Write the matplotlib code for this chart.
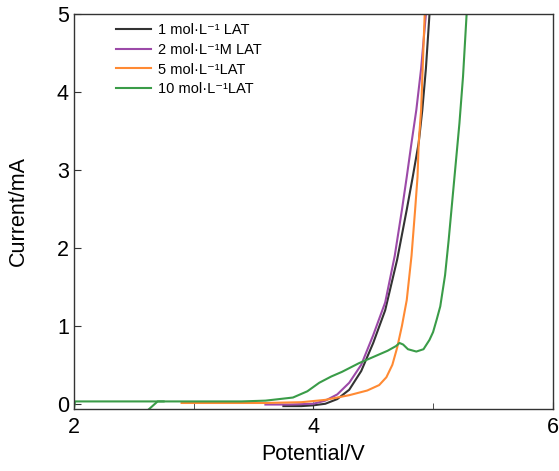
import matplotlib
matplotlib.use("Agg")
import matplotlib.pyplot as plt
from matplotlib.ticker import MultipleLocator

plt.rcParams['font.family'] = ['Liberation Sans', 'DejaVu Sans']

# 1 mol/L
x_1m = [3.75, 3.9, 4.0, 4.1, 4.2, 4.3, 4.4, 4.5, 4.6, 4.7, 4.78, 4.83, 4.88, 4.91, 4.94, 4.97]
y_1m = [-0.03, -0.03, -0.02, 0.0, 0.06, 0.18, 0.42, 0.78, 1.2, 1.85, 2.49, 2.91, 3.35, 3.77, 4.3, 5.0]

# 2 mol/L
x_2m = [3.6, 3.8, 4.0, 4.1, 4.2, 4.3, 4.4, 4.5, 4.6, 4.68, 4.74, 4.78, 4.82, 4.86, 4.9, 4.94]
y_2m = [-0.01, -0.01, 0.0, 0.04, 0.12, 0.27, 0.5, 0.88, 1.3, 1.9, 2.49, 2.91, 3.35, 3.77, 4.3, 5.0]

# 5 mol/L
x_5m = [2.9, 3.2, 3.6, 3.9, 4.1, 4.3, 4.45, 4.55, 4.61, 4.66, 4.7, 4.74, 4.78, 4.82,
        4.85, 4.87, 4.88, 4.9, 4.93]
y_5m = [0.01, 0.01, 0.01, 0.02, 0.05, 0.11, 0.17, 0.24, 0.34, 0.5, 0.72, 1.0, 1.33, 1.9,
        2.49, 2.91, 3.35, 3.77, 5.0]

# 10 mol/L (two pieces of the scan)
x_10m_a = [2.0, 2.01, 2.3, 2.75]
y_10m_a = [-0.07, 0.03, 0.03, 0.03]
x_10m_b = [2.62, 2.7, 3.0, 3.4, 3.6, 3.83, 3.95, 4.05, 4.15, 4.24, 4.38, 4.5, 4.62, 4.69,
           4.72, 4.75, 4.79, 4.86, 4.92, 4.97, 5.0, 5.03, 5.06, 5.1, 5.13, 5.16, 5.19,
           5.22, 5.25, 5.28]
y_10m_b = [-0.08, 0.03, 0.03, 0.03, 0.04, 0.08, 0.16, 0.27, 0.35, 0.41, 0.52, 0.6, 0.68,
           0.74, 0.78, 0.76, 0.7, 0.67, 0.7, 0.82, 0.92, 1.08, 1.25, 1.65, 2.1, 2.6,
           3.1, 3.6, 4.2, 5.0]

labels = ["1 mol·L⁻¹ LAT", "2 mol·L⁻¹M LAT", "5 mol·L⁻¹LAT", "10 mol·L⁻¹LAT"]
colors = ["#333333", "#9c4aa8", "#ff8a33", "#3a9c48"]


def main():
    fig = plt.figure(figsize=(5.59, 4.71), dpi=100)
    ax = fig.add_axes([0.132, 0.132, 0.857, 0.838])

    ax.plot(x_1m, y_1m, color=colors[0], lw=1.5, label=labels[0])
    ax.plot(x_2m, y_2m, color=colors[1], lw=1.5, label=labels[1])
    ax.plot(x_5m, y_5m, color=colors[2], lw=1.5, label=labels[2])
    ax.plot(x_10m_b, y_10m_b, color=colors[3], lw=1.5, label=labels[3])
    ax.plot(x_10m_a, y_10m_a, color=colors[3], lw=1.5)

    ax.set_xlim(2, 6)
    ax.set_ylim(-0.065, 5)
    ax.xaxis.set_major_locator(MultipleLocator(2))
    ax.xaxis.set_minor_locator(MultipleLocator(1))
    ax.yaxis.set_major_locator(MultipleLocator(1))
    ax.tick_params(which="both", direction="in", labelsize=15.5, color="#333333")
    ax.tick_params(which="major", length=5)
    ax.tick_params(which="minor", length=4)
    ax.tick_params(axis="x", pad=6)
    for s in ax.spines.values():
        s.set_color("#333333")
        s.set_linewidth(1.0)

    ax.set_xlabel("Potential/V", fontsize=15.5, labelpad=4)
    ax.set_ylabel("Current/mA", fontsize=15.5, labelpad=20)

    ax.legend(loc="upper left", bbox_to_anchor=(0.07, 1.0), frameon=False,
              fontsize=10.5, handlelength=2.4, handletextpad=0.45,
              labelspacing=0.4, borderaxespad=0.2)

    fig.savefig("out.png", dpi=100)
    plt.close(fig)


if __name__ == "__main__":
    main()
